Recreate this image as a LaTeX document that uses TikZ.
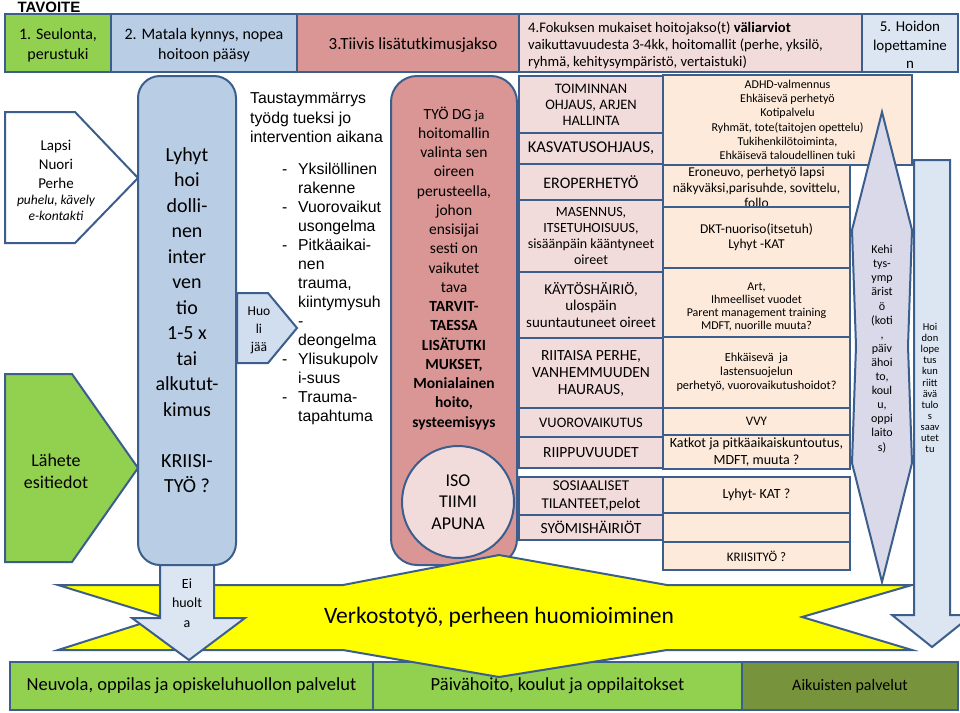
\documentclass[tikz,border=0pt]{standalone}
\usepackage{fontspec}
\setmainfont{Carlito}
\newfontfamily\arialf{Liberation Sans}
\definecolor{bord}{HTML}{3B5E8C}
\definecolor{grn}{HTML}{92D050}
\definecolor{dgrn}{HTML}{77933C}
\definecolor{lblue}{HTML}{B9CDE5}
\definecolor{pblue}{HTML}{DCE6F2}
\definecolor{hblue}{HTML}{D0DEEF}
\definecolor{rose}{HTML}{D99694}
\definecolor{pinkl}{HTML}{F2DCDB}
\definecolor{peach}{HTML}{FDEADA}
\definecolor{lav}{HTML}{D9D9EA}
\definecolor{yel}{HTML}{FFFF00}
\begin{document}
\begin{tikzpicture}[x=1pt,y=-1pt,
  bx/.style={draw=bord, line width=2pt, inner sep=0pt, align=center},
  shp/.style={draw=bord, line width=2pt, line join=miter},
  txt/.style={inner sep=0pt, align=center},
  fs/.style 2 args={font=\fontsize{#1}{#2}\selectfont},
]
\useasboundingbox (0,0) rectangle (960,712);
\fill[white] (0,0) rectangle (960,712);

% ---------- header row ----------
\node[txt, font=\arialf\bfseries\fontsize{15}{18}\selectfont] (tav) at (49,7) {TAVOITE};
\node[bx, fill=grn, minimum width=106, minimum height=58] (h1) at (58,43) {};
\node[bx, fill=lblue, minimum width=186, minimum height=58] (h2) at (204,43) {};
\node[bx, fill=rose, minimum width=222, minimum height=58] (h3) at (408,43) {};
\node[bx, fill=pinkl, minimum width=343, minimum height=58] (h4) at (690.5,43) {};
\node[bx, fill=pblue, minimum width=96, minimum height=58] (h5) at (910,43) {};
\node[txt, fs={16}{20.5}] (h1t) at (58,45) {1. Seulonta,\\perustuki};
\node[txt, fs={16}{20.5}] (h2t) at (204,45) {2. Matala kynnys, nopea\\hoitoon pääsy};
\node[txt, fs={17}{20}] (h3t) at (413,45) {3.Tiivis lisätutkimusjakso};
\node[txt, align=left, anchor=west, fs={14.6}{17}] (h4t) at (528,45)
  {4.Fokuksen mukaiset hoitojakso(t) \textbf{väliarviot}\\vaikuttavuudesta 3-4kk, hoitomallit (perhe, yksilö,\\ryhmä, kehitysympäristö, vertaistuki)};
\node[txt, fs={15}{18.5}] (h5t) at (910,45) {5. Hoidon\\lopettamine\\n};

% ---------- left side ----------
\draw[shp, fill=white] (5,112) -- (75,112) -- (138,178) -- (75,243) -- (5,243) -- cycle;
\draw[shp, fill=grn] (5,374) -- (72,374) -- (138,468) -- (72,562) -- (5,562) -- cycle;
\node[txt, fs={15}{19}] (lapsiA) at (56,164) {Lapsi\\Nuori\\Perhe};
\node[txt, font=\fontsize{13.5}{16.5}\selectfont\itshape] (lapsiB) at (56,208) {puhelu, kävely\\e-kontakti};
\node[txt, fs={18}{22}] (lahete) at (56,471) {Lähete\\esitiedot};

\node[bx, fill=lblue, rounded corners=22, minimum width=98, minimum height=489] (lyhyt) at (187,320.5) {};
\node[txt, fs={20}{25.5}] (lyhytt) at (187,320) {Lyhyt\\hoi\\dolli-\\nen\\inter\\ven\\tio\\1-5 x\\tai\\alkutut-\\kimus\\~\\KRIISI-\\TYÖ ?};

\draw[shp, fill=hblue] (237,293) -- (268,293) -- (297,328) -- (268,363) -- (237,363) -- cycle;
\node[txt, fs={13.5}{18}] (huo) at (259,330) {Huo\\li\\jää};

\node[txt, align=left, anchor=west, font=\arialf\fontsize{15.8}{19.5}\selectfont] (taus) at (250,118)
  {Taustaymmärrys\\työdg tueksi jo\\intervention aikana};
\node[txt, anchor=north west, font=\arialf\fontsize{15.8}{19}\selectfont] (lst) at (282,161)
  {\begin{tabular}{@{}p{16pt}@{}l@{}}
  - & Yksilöllinen\\
    & rakenne\\
  - & Vuorovaikut\\
    & usongelma\\
  - & Pitkäaikai-\\
    & nen\\
    & trauma,\\
    & kiintymysuh\\
    & -\\
    & deongelma\\
  - & Ylisukupolv\\
    & i-suus\\
  - & Trauma-\\
    & tapahtuma
  \end{tabular}};

% ---------- column 3 ----------
\node[bx, fill=rose, rounded corners=26, minimum width=126, minimum height=489] (tutk) at (454,320.5) {};
\node[txt, fs={15.5}{19.25}] (tyo) at (454,268)
  {TYÖ DG {\fontsize{13}{19.25}\selectfont ja}\\hoitomallin\\valinta sen\\oireen\\perusteella,\\johon\\ensisijai\\sesti on\\vaikutet\\tava\\\textbf{TARVIT-}\\\textbf{TAESSA}\\\textbf{LISÄTUTKI}\\\textbf{MUKSET,}\\\textbf{Monialainen}\\\textbf{hoito,}\\\textbf{systeemisyys}};
\node[bx, circle, fill=pinkl, minimum size=112] (iso) at (458,502) {};
\node[txt, fs={18}{21.5}] (isot) at (458,502) {ISO\\TIIMI\\APUNA};

% ---------- column 4 left ----------
\node[bx, fill=pinkl, minimum width=144, minimum height=57, fs={14.5}{16}] (c1) at (591,104.5) {TOIMINNAN\\OHJAUS, ARJEN\\HALLINTA};
\node[bx, fill=pinkl, minimum width=144, minimum height=31, fs={16.5}{18}] (c2) at (591,148.5) {KASVATUSOHJAUS,};
\node[bx, fill=pinkl, minimum width=144, minimum height=36, fs={16}{18}] (c3) at (591,182) {EROPERHETYÖ};
\node[bx, fill=pinkl, minimum width=144, minimum height=72, fs={14}{16.3}] (c4) at (591,236) {MASENNUS,\\ITSETUHOISUUS,\\sisäänpäin kääntyneet\\oireet};
\node[bx, fill=pinkl, minimum width=144, minimum height=66, fs={15}{16.3}] (c5) at (591,305) {KÄYTÖSHÄIRIÖ,\\ulospäin\\suuntautuneet oireet};
\node[bx, fill=pinkl, minimum width=144, minimum height=70, fs={15.5}{17}] (c6) at (591,373) {RIITAISA PERHE,\\VANHEMMUUDEN\\HAURAUS,};
\node[bx, fill=pinkl, minimum width=144, minimum height=29, fs={14.5}{17}] (c7) at (591,422.5) {VUOROVAIKUTUS};
\node[bx, fill=pinkl, minimum width=144, minimum height=31, fs={15.5}{17}] (c8) at (591,452.5) {RIIPPUVUUDET};
\node[bx, fill=pinkl, minimum width=144, minimum height=38, fs={15}{18}] (c9) at (591,496) {SOSIAALISET\\TILANTEET,pelot};
\node[bx, fill=pinkl, minimum width=144, minimum height=25, fs={15.5}{17}] (c10) at (591,527.5) {SYÖMISHÄIRIÖT};

% ---------- column 4 right ----------
\node[bx, fill=peach, minimum width=249, minimum height=90, fs={12}{14.3}] (r1) at (787.5,120)
  {ADHD-valmennus\\Ehkäisevä perhetyö\\Kotipalvelu\\Ryhmät, tote(taitojen opettelu)\\Tukihenkilötoiminta,\\Ehkäisevä taloudellinen tuki};
\node[bx, fill=peach, minimum width=187, minimum height=42] (r2) at (756.5,186) {};
\node[txt, fs={13.5}{15.5}] (r2t) at (756.5,187.5) {Eroneuvo, perhetyö lapsi\\näkyväksi,parisuhde, sovittelu,\\follo};
\node[bx, fill=peach, minimum width=187, minimum height=61, fs={13.5}{15}] (r3) at (756.5,237.5) {DKT-nuoriso(itsetuh)\\Lyhyt -KAT};
\node[bx, fill=peach, minimum width=187, minimum height=69] (r4) at (756.5,302.5) {};
\node[txt, fs={12}{13}] (r4t) at (756.5,306.5) {Art,\\Ihmeelliset vuodet\\Parent management training\\MDFT, nuorille muuta?};
\node[bx, fill=peach, minimum width=187, minimum height=71, fs={12.3}{14}] (r5) at (756.5,372.5) {Ehkäisevä\ \ ja\\lastensuojelun\\perhetyö, vuorovaikutushoidot?};
\node[bx, fill=peach, minimum width=187, minimum height=27, fs={13}{15}] (r6) at (756.5,421.5) {VVY};
\node[bx, fill=peach, minimum width=187, minimum height=34, fs={14}{17}] (r7) at (756.5,452) {Katkot ja pitkäaikaiskuntoutus,\\MDFT, muuta ?};
\node[bx, fill=peach, minimum width=187, minimum height=36, fs={14}{17}] (r8) at (756.5,495) {Lyhyt- KAT ?};
\node[bx, fill=peach, minimum width=187, minimum height=29] (r9) at (756.5,527.5) {};
\node[bx, fill=peach, minimum width=187, minimum height=28, fs={13}{15}] (r10) at (756.5,556) {KRIISITYÖ ?};

% ---------- right arrows ----------
\draw[shp, fill=lav] (882,112) -- (912,230) -- (908,346) -- (912,463) -- (882,582) -- (852,463) -- (856,346) -- (852,230) -- cycle;
\node[txt, fs={12}{14.1}] (kehi) at (882,349) {Kehi\\tys-\\ymp\\ärist\\ö\\(koti\\,\\päiv\\ähoi\\to,\\koul\\u,\\oppi\\laito\\s)};

% ---------- bottom row ----------
\node[bx, fill=grn, minimum width=363, minimum height=48, fs={18.5}{20}] (b1) at (191.5,686) {Neuvola, oppilas ja opiskeluhuollon palvelut};
\node[bx, fill=grn, minimum width=369, minimum height=48, fs={18.5}{20}] (b2) at (557.5,686) {Päivähoito, koulut ja oppilaitokset};
\node[bx, fill=dgrn, minimum width=216, minimum height=48, fs={16}{18}] (b3) at (850,686) {Aikuisten palvelut};

% ---------- yellow star ----------
\draw[shp, fill=yel] (58,585) -- (343,585) -- (499,555) -- (667,585) -- (912,585) -- (802,617)
  -- (912,650) -- (667,650) -- (499,677) -- (343,650) -- (58,650) -- (162,617) -- cycle;
\node[txt, fs={23.5}{26}] (verk) at (499,617) {Verkostotyö, perheen huomioiminen};

% ---------- down arrows ----------
\draw[shp, fill=pblue] (160,565) -- (214,565) -- (214,618) -- (245,618) -- (189,660) -- (132,618) -- (160,618) -- cycle;
\node[txt, fs={14}{19.5}] (ei) at (187,603) {Ei\\huolt\\a};
\draw[shp, fill=pblue] (914,160) -- (950,160) -- (950,615) -- (972,615) -- (932,647) -- (892,615) -- (914,615) -- cycle;
\node[txt, fs={10.5}{11.1}] (hoi) at (930,388) {Hoi\\don\\lope\\tus\\kun\\riitt\\ävä\\tulo\\s\\saav\\utet\\tu};
\end{tikzpicture}
\end{document}
